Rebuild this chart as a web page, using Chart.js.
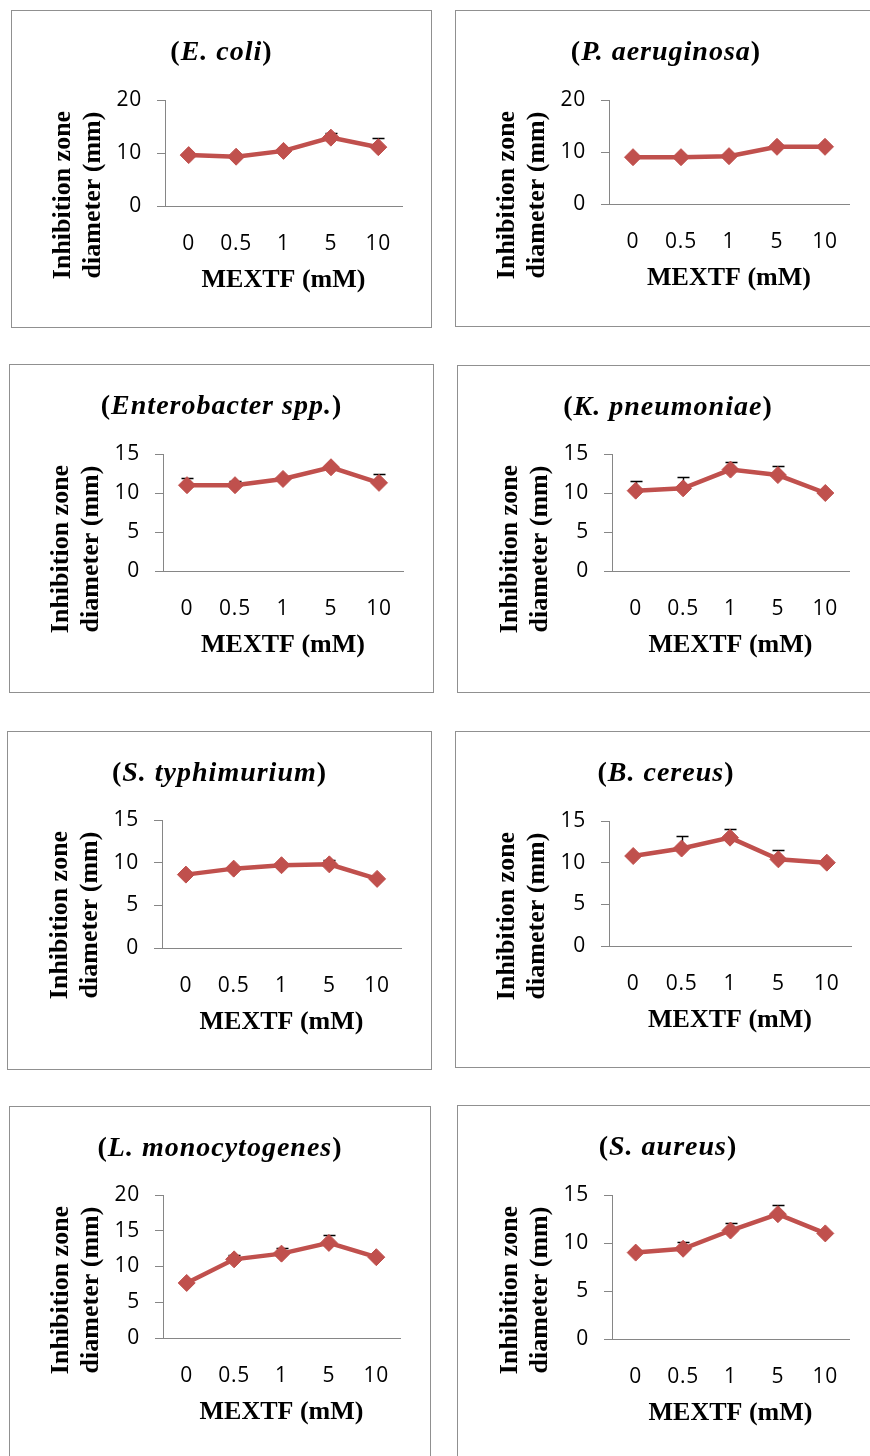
<!DOCTYPE html>
<html><head><meta charset="utf-8">
<script src="https://cdn.jsdelivr.net/npm/chart.js@4.4.1/dist/chart.umd.min.js"></script>
<style>
html,body{margin:0;padding:0;background:#fff;width:870px;height:1456px;overflow:hidden;position:relative}
.box{position:absolute;border:1px solid #909090;box-sizing:border-box}
canvas{position:absolute}
</style></head><body>
<script>
// ---- data ----
const categories = ['0', '0.5', '1', '5', '10'];
const xAxisTitle = 'MEXTF (mM)';
const yAxisTitle = ['Inhibition zone', 'diameter (mm)'];
const organisms = ['E. coli', 'P. aeruginosa', 'Enterobacter spp.', 'K. pneumoniae',
                   'S. typhimurium', 'B. cereus', 'L. monocytogenes', 'S. aureus'];
const ecoli = [9.6, 9.3, 10.4, 12.9, 11.1];
const ecoliErr = [0, 0, 0, 0.9, 1.8];
const paeruginosa = [9.0, 9.0, 9.2, 11.0, 11.0];
const paeruginosaErr = [0, 0, 0, 0, 0];
const enterobacter = [11.0, 11.0, 11.8, 13.3, 11.3];
const enterobacterErr = [0.9, 0.6, 0, 0, 1.1];
const kpneumoniae = [10.3, 10.6, 13.0, 12.3, 10.0];
const kpneumoniaeErr = [1.2, 1.5, 1.0, 1.2, 0];
const styphimurium = [8.6, 9.3, 9.7, 9.8, 8.1];
const styphimuriumErr = [0, 0, 0, 0.5, 0];
const bcereus = [10.8, 11.7, 13.0, 10.4, 10.0];
const bcereusErr = [0, 1.5, 1.0, 1.1, 0];
const lmonocytogenes = [7.7, 11.0, 11.8, 13.3, 11.3];
const lmonocytogenesErr = [0, 0.6, 0.8, 1.1, 0];
const saureus = [9.0, 9.4, 11.3, 13.0, 11.0];
const saureusErr = [0, 0.7, 0.8, 1.0, 0];
const yMax = [20, 20, 15, 15, 15, 15, 20, 15];
const yStep = [10, 10, 5, 5, 5, 5, 5, 5];
const seriesValues = [ecoli, paeruginosa, enterobacter, kpneumoniae, styphimurium, bcereus, lmonocytogenes, saureus];
const seriesErrors = [ecoliErr, paeruginosaErr, enterobacterErr, kpneumoniaeErr, styphimuriumErr, bcereusErr, lmonocytogenesErr, saureusErr];

// ---- layout (page pixels) ----
const boxes = [[11,10,421,318],[455,10,422,317],[9,364,425,329],[457,365,422,328],
               [7,731,425,339],[455,731,422,337],[9,1106,422,380],[457,1105,422,380]];
const areas = [[165,402,100,206],[609,849,100,204],[163,403,454,571],[612,849,454,571],
               [162,401,820,948],[609,851,821,946],[163,400,1195,1338],[612,849,1195,1339]];

const RED = '#C0504D', AXIS = '#868686';
const SERIF = '"Liberation Serif", "Times New Roman", serif';
const SANS = '"Open Sans", "Noto Sans", sans-serif';

const panelPlugin = {
  id: 'panelPlugin',
  beforeDraw(chart) { chart.ctx.letterSpacing = '0.8px'; },
  beforeDatasetsDraw(chart, args, opts) {
    const {ctx} = chart, x = chart.scales.x, y = chart.scales.y;
    const vals = chart.data.datasets[0].data;
    ctx.save();
    ctx.strokeStyle = '#000'; ctx.lineWidth = 1.4;
    vals.forEach((v, i) => {
      const e = opts.errors[i];
      if (!e) return;
      const px = Math.round(x.getPixelForValue(i)) + 0.5;
      const p0 = y.getPixelForValue(v), p1 = Math.round(y.getPixelForValue(v + e)) + 0.5;
      ctx.beginPath();
      ctx.moveTo(px, p0); ctx.lineTo(px, p1);
      ctx.moveTo(px - 6, p1); ctx.lineTo(px + 6, p1);
      ctx.stroke();
    });
    ctx.restore();
  },
  afterDraw(chart, args, opts) {
    const {ctx, chartArea: ca} = chart;
    ctx.save();
    ctx.fillStyle = '#000';
    ctx.textBaseline = 'alphabetic';
    // panel title: (Name) with italic name
    const fUp = 'bold 28px ' + SERIF, fIt = 'italic bold 28px ' + SERIF;
    const parts = [['(', fUp], [opts.name, fIt], [')', fUp]];
    ctx.letterSpacing = '1px';
    let total = 0;
    const ws = parts.map(([t, f]) => { ctx.font = f; const w = ctx.measureText(t).width; total += w; return w; });
    let xx = opts.titleX - total / 2;
    ctx.textAlign = 'left';
    parts.forEach(([t, f], i) => { ctx.font = f; ctx.fillText(t, xx, opts.titleY); xx += ws[i]; });
    // x axis title
    ctx.letterSpacing = '0px';
    ctx.font = 'bold 26px ' + SERIF;
    ctx.textAlign = 'center';
    ctx.fillText(xAxisTitle, (ca.left + ca.right) / 2, ca.bottom + 81);
    // y axis title (two rotated lines)
    const cy = ca.top + 95;
    [[yAxisTitle[0], ca.left - 95], [yAxisTitle[1], ca.left - 65]].forEach(([t, bx]) => {
      ctx.save();
      ctx.translate(bx, cy);
      ctx.rotate(-Math.PI / 2);
      ctx.fillText(t, 0, 0);
      ctx.restore();
    });
    ctx.restore();
  }
};

organisms.forEach((name, k) => {
  const [L, T, W, H] = boxes[k];
  const [x0, x1, top, bottom] = areas[k];
  const div = document.createElement('div');
  div.className = 'box';
  Object.assign(div.style, {left: L + 'px', top: T + 'px', width: W + 'px', height: H + 'px'});
  document.body.appendChild(div);
  const cv = document.createElement('canvas');
  cv.width = W; cv.height = H;
  Object.assign(cv.style, {left: L + 'px', top: T + 'px', width: W + 'px', height: H + 'px'});
  document.body.appendChild(cv);
  const YW = 60, XH = 110;
  new Chart(cv, {
    type: 'line',
    data: {
      labels: categories,
      datasets: [{
        data: seriesValues[k],
        borderColor: RED, backgroundColor: RED, borderWidth: 4.5,
        pointStyle: 'rectRot', pointRadius: 8.5, pointHoverRadius: 8.5,
        pointBackgroundColor: RED, pointBorderColor: RED, pointBorderWidth: 1,
        tension: 0, fill: false
      }]
    },
    options: {
      responsive: false, maintainAspectRatio: false, devicePixelRatio: 1, animation: false,
      events: [],
      layout: {padding: {left: x0 - L - YW, right: W - (x1 - L), top: top - T, bottom: H - (bottom - T) - XH}},
      plugins: {
        legend: {display: false}, tooltip: {enabled: false}, title: {display: false},
        panelPlugin: {name: name, errors: seriesErrors[k], titleX: W / 2, titleY: 50}
      },
      scales: {
        x: {
          type: 'category', offset: true,
          grid: {display: false, drawTicks: false},
          border: {display: true, color: AXIS, width: 1},
          ticks: {font: {family: SANS, size: 21}, color: '#000', padding: 25, maxRotation: 0, autoSkip: false},
          afterFit: s => { s.height = XH; }
        },
        y: {
          min: 0, max: yMax[k],
          grid: {display: true, drawOnChartArea: false, drawTicks: true, tickLength: 8, color: AXIS, tickColor: AXIS, lineWidth: 1},
          border: {display: true, color: AXIS, width: 1},
          ticks: {stepSize: yStep[k], font: {family: SANS, size: 21}, color: '#000', padding: 15},
          afterFit: s => { s.width = YW; }
        }
      }
    },
    plugins: [panelPlugin]
  });
});
</script>
</body></html>
